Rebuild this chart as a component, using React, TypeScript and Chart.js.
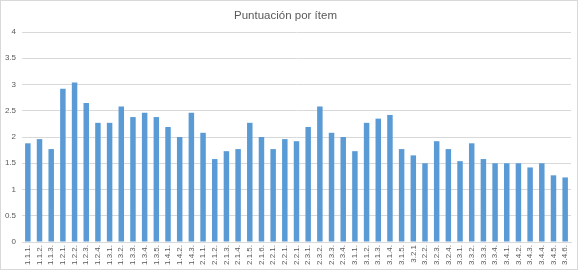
import React, { useEffect, useRef } from "react";
import { Chart, registerables } from "chart.js";

Chart.register(...registerables);

const title = "Puntuación por ítem";

const categories: string[] = [
  "1.1.1.", "1.1.2.", "1.1.3.", "1.2.1.", "1.2.2.", "1.2.3.", "1.2.4.",
  "1.3.1.", "1.3.2.", "1.3.3.", "1.3.4.", "1.3.5.", "1.4.1.", "1.4.2.", "1.4.3.",
  "2.1.1.", "2.1.2.", "2.1.3.", "2.1.4.", "2.1.5.", "2.1.6.",
  "2.2.1.", "2.2.1.", "2.2.1.", "2.3.1.", "2.3.2.", "2.3.3.", "2.3.4.",
  "3.1.1.", "3.1.2.", "3.1.3.", "3.1.4.", "3.1.5.",
  "3.2.1", "3.2.2.", "3.2.3.", "3.2.4.",
  "3.3.1.", "3.3.2.", "3.3.3.", "3.3.4.",
  "3.4.1.", "3.4.2.", "3.4.3.", "3.4.4.", "3.4.5.", "3.4.6.",
];

const scores: number[] = [
  1.88, 1.96, 1.77, 2.92, 3.04, 2.65, 2.27,
  2.27, 2.58, 2.38, 2.46, 2.38, 2.19, 2.0, 2.46,
  2.08, 1.58, 1.73, 1.77, 2.27, 2.0,
  1.77, 1.96, 1.92, 2.19, 2.58, 2.08, 2.0,
  1.73, 2.27, 2.35, 2.42, 1.77,
  1.65, 1.5, 1.92, 1.77,
  1.54, 1.88, 1.58, 1.5,
  1.5, 1.5, 1.42, 1.5, 1.27, 1.23,
];

const yMin = 0;
const yMax = 4;
const yStep = 0.5;

const FONT = "'Liberation Sans', Arial, sans-serif";
const TEXT = "#595959";
const GRID = "#d9d9d9";
const BAR = "#5b9bd5";

const framePlugin = {
  id: "frame",
  afterDraw(chart: any) {
    const ctx = chart.ctx;
    ctx.save();
    ctx.strokeStyle = GRID;
    ctx.lineWidth = 1;
    ctx.strokeRect(0.5, 0.5, 577, 269);
    ctx.restore();
  },
};

export default function App() {
  const ref = useRef<HTMLCanvasElement | null>(null);

  useEffect(() => {
    if (!ref.current) return;
    const chart = new Chart(ref.current, {
      type: "bar",
      data: {
        labels: categories,
        datasets: [
          {
            label: "Puntuación",
            data: scores,
            backgroundColor: BAR,
            borderWidth: 0,
            barPercentage: 0.47,
            categoryPercentage: 1,
          },
        ],
      },
      options: {
        responsive: false,
        animation: false,
        layout: { padding: { left: 0, right: 10, top: 0, bottom: 0 } },
        plugins: {
          legend: { display: false },
          tooltip: { enabled: false },
          title: {
            display: true,
            text: title,
            color: TEXT,
            font: { family: FONT, size: 11.5, weight: "normal" as any },
            padding: { top: 9, bottom: 9.2 },
          },
        },
        scales: {
          x: {
            grid: { display: false, drawTicks: false },
            border: { display: true, color: GRID },
            ticks: {
              autoSkip: false,
              minRotation: 90,
              maxRotation: 90,
              padding: 3,
              color: TEXT,
              font: { family: FONT, size: 8 },
            },
            afterFit(scale: any) {
              scale.height = 29;
            },
          },
          y: {
            min: yMin,
            max: yMax,
            grid: { color: GRID, drawTicks: false },
            border: { display: false },
            ticks: {
              stepSize: yStep,
              padding: 6,
              color: TEXT,
              font: { family: FONT, size: 8 },
              callback: (v: any) => String(Number(v)),
            },
            afterFit(scale: any) {
              scale.width = 22;
            },
          },
        },
      },
      plugins: [framePlugin],
    });
    return () => chart.destroy();
  }, []);

  return (
    <div style={{ position: "absolute", left: 0, top: 0, width: 581, height: 271, background: "#fff" }}>
      <canvas ref={ref} width={581} height={271} />
    </div>
  );
}
